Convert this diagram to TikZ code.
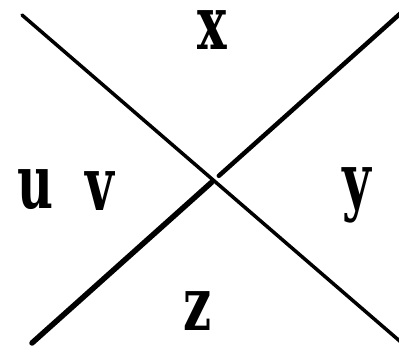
\documentclass[tikz,border=0pt]{standalone}
\usepackage{fontspec}
\usepackage{tikz}
\usetikzlibrary{calc}
\newfontfamily\slabfont{DejaVu Serif}
\tikzset{
  letter/.style={font=\slabfont\bfseries\fontsize{75}{75}\selectfont, inner sep=0pt,
    text height=0.56em, anchor=base, xscale=0.66},
  thinline/.style={line width=3.5pt, line cap=round, black},
  thickline/.style={line width=5pt, line cap=round, black}
}
\begin{document}
\begin{tikzpicture}[x=1pt, y=1pt]
  \useasboundingbox (0,0) rectangle (399,354);
  % end points of the two crossing lines
  \coordinate (nw) at (22,339);
  \coordinate (se) at (402,11);
  \coordinate (sw) at (32,11);
  \coordinate (ne) at (402,342);
  \coordinate (oa) at ($(sw)!0.505!(ne)$);
  \coordinate (ob) at ($(sw)!0.485!(ne)$);
  \draw[thinline] (nw) -- (se);
  \draw[thickline, line width=4.5pt] (oa) -- (ne);
  \draw[thickline, line width=5.5pt] (sw) -- (ob);
  % labels
  \node[letter] (x) at (212,304) {x};
  \node[letter] (u) at (35,146) {u};
  \node[letter] (v) at (100,143) {v};
  \node[letter] (y) at (357,148) {y};
  \node[letter] (z) at (198,24) {z};
\end{tikzpicture}
\end{document}
